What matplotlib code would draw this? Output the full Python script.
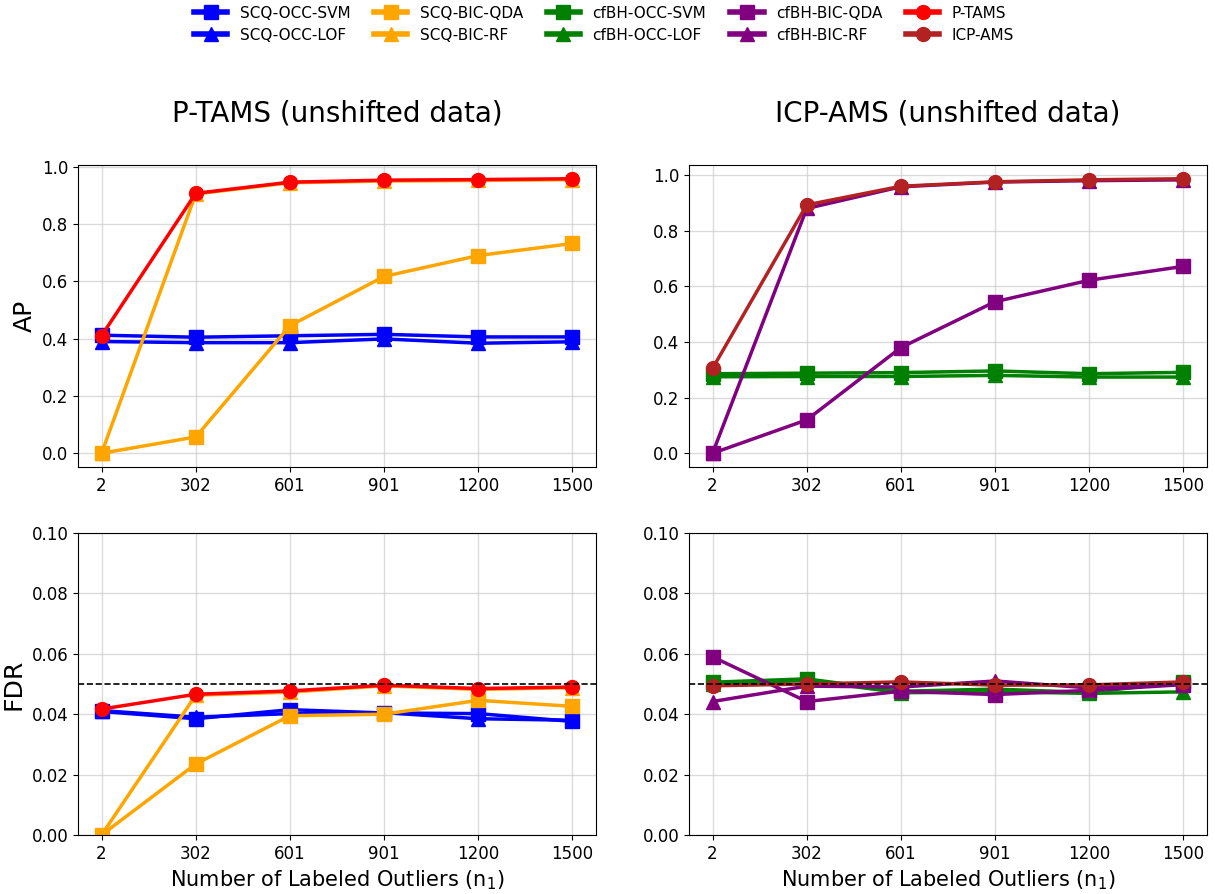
import numpy as np
import matplotlib
matplotlib.use("Agg")
import matplotlib.pyplot as plt

# ----------------------- DATA -----------------------
n_outliers = ["2", "302", "601", "901", "1200", "1500"]

# AP, left panel (P-TAMS family)
ap_scq_occ_svm = [0.412, 0.405, 0.410, 0.415, 0.406, 0.406]
ap_scq_occ_lof = [0.390, 0.386, 0.386, 0.399, 0.384, 0.389]
ap_scq_bic_qda = [0.000, 0.057, 0.445, 0.617, 0.690, 0.732]
ap_scq_bic_rf = [0.000, 0.905, 0.944, 0.950, 0.952, 0.955]
ap_p_tams = [0.410, 0.907, 0.946, 0.953, 0.955, 0.958]

# AP, right panel (ICP-AMS family)
ap_cfbh_occ_svm = [0.286, 0.288, 0.290, 0.296, 0.286, 0.291]
ap_cfbh_occ_lof = [0.275, 0.276, 0.276, 0.280, 0.274, 0.274]
ap_cfbh_bic_qda = [0.000, 0.120, 0.380, 0.545, 0.622, 0.672]
ap_cfbh_bic_rf = [0.000, 0.880, 0.958, 0.975, 0.980, 0.983]
ap_icp_ams = [0.305, 0.893, 0.960, 0.976, 0.983, 0.987]

# FDR, left panel
fdr_scq_occ_svm = [0.0409, 0.0385, 0.0415, 0.0404, 0.0402, 0.0376]
fdr_scq_occ_lof = [0.0412, 0.0390, 0.0402, 0.0405, 0.0385, 0.0380]
fdr_scq_bic_qda = [0.0000, 0.0235, 0.0395, 0.0400, 0.0446, 0.0426]
fdr_scq_bic_rf = [0.0000, 0.0463, 0.0473, 0.0494, 0.0482, 0.0488]
fdr_p_tams = [0.0417, 0.0466, 0.0477, 0.0496, 0.0485, 0.0490]

# FDR, right panel
fdr_cfbh_occ_svm = [0.0506, 0.0517, 0.0476, 0.0483, 0.0472, 0.0507]
fdr_cfbh_occ_lof = [0.0500, 0.0512, 0.0471, 0.0474, 0.0469, 0.0474]
fdr_cfbh_bic_qda = [0.0590, 0.0442, 0.0476, 0.0465, 0.0479, 0.0498]
fdr_cfbh_bic_rf = [0.0442, 0.0493, 0.0490, 0.0510, 0.0487, 0.0502]
fdr_icp_ams = [0.0494, 0.0500, 0.0507, 0.0496, 0.0497, 0.0507]

target_fdr = 0.05

# ----------------------- STYLE -----------------------
styles = {
    "SCQ-OCC-SVM": ("blue", "s"),
    "SCQ-OCC-LOF": ("blue", "^"),
    "SCQ-BIC-QDA": ("orange", "s"),
    "SCQ-BIC-RF": ("orange", "^"),
    "cfBH-OCC-SVM": ("green", "s"),
    "cfBH-OCC-LOF": ("green", "^"),
    "cfBH-BIC-QDA": ("purple", "s"),
    "cfBH-BIC-RF": ("purple", "^"),
    "P-TAMS": ("red", "o"),
    "ICP-AMS": ("firebrick", "o"),
}

left_ap = {"SCQ-OCC-SVM": ap_scq_occ_svm, "SCQ-OCC-LOF": ap_scq_occ_lof,
           "SCQ-BIC-QDA": ap_scq_bic_qda, "SCQ-BIC-RF": ap_scq_bic_rf,
           "P-TAMS": ap_p_tams}
right_ap = {"cfBH-OCC-SVM": ap_cfbh_occ_svm, "cfBH-OCC-LOF": ap_cfbh_occ_lof,
            "cfBH-BIC-QDA": ap_cfbh_bic_qda, "cfBH-BIC-RF": ap_cfbh_bic_rf,
            "ICP-AMS": ap_icp_ams}
left_fdr = {"SCQ-OCC-SVM": fdr_scq_occ_svm, "SCQ-OCC-LOF": fdr_scq_occ_lof,
            "SCQ-BIC-QDA": fdr_scq_bic_qda, "SCQ-BIC-RF": fdr_scq_bic_rf,
            "P-TAMS": fdr_p_tams}
right_fdr = {"cfBH-OCC-SVM": fdr_cfbh_occ_svm, "cfBH-OCC-LOF": fdr_cfbh_occ_lof,
             "cfBH-BIC-QDA": fdr_cfbh_bic_qda, "cfBH-BIC-RF": fdr_cfbh_bic_rf,
             "ICP-AMS": fdr_icp_ams}

W, H = 1215, 894
fig = plt.figure(figsize=(W / 100, H / 100), dpi=100)


def px_axes(x0, y0, x1, y1):
    return fig.add_axes([x0 / W, 1 - y1 / H, (x1 - x0) / W, (y1 - y0) / H])


ax_tl = px_axes(78, 165, 596, 467)
ax_tr = px_axes(689, 165, 1207, 467)
ax_bl = px_axes(78, 533, 596, 835)
ax_br = px_axes(689, 533, 1207, 835)

x = np.arange(len(n_outliers))
handles = {}


def draw(ax, series):
    for name, vals in series.items():
        color, marker = styles[name]
        line, = ax.plot(x, vals, color=color, marker=marker, markersize=10,
                        linewidth=2.5, label=name)
        handles[name] = line
    ax.set_xticks(x)
    ax.set_xticklabels(n_outliers)
    ax.tick_params(labelsize=12)
    ax.grid(True, color="#cccccc", alpha=0.7, linewidth=1)


draw(ax_tl, left_ap)
draw(ax_tr, right_ap)
draw(ax_bl, left_fdr)
draw(ax_br, right_fdr)

for ax in (ax_bl, ax_br):
    ax.set_ylim(0, 0.1)
    ax.set_yticks(np.arange(0, 0.101, 0.02))
    ax.axhline(target_fdr, color="black", linestyle="--", linewidth=1.2)
    ax.set_xlabel("Number of Labeled Outliers (n$_1$)", fontsize=15)

ax_tl.set_title("P-TAMS (unshifted data)", fontsize=20, pad=31)
ax_tr.set_title("ICP-AMS (unshifted data)", fontsize=20, pad=31)
ax_tl.set_ylabel("AP", fontsize=18)
ax_bl.set_ylabel("FDR", fontsize=18)

order = ["SCQ-OCC-SVM", "SCQ-OCC-LOF", "SCQ-BIC-QDA", "SCQ-BIC-RF",
         "cfBH-OCC-SVM", "cfBH-OCC-LOF", "cfBH-BIC-QDA", "cfBH-BIC-RF",
         "P-TAMS", "ICP-AMS"]
leg = fig.legend([handles[n] for n in order], order, loc="upper center",
                 bbox_to_anchor=(0.497, 1.009), ncol=5, frameon=False,
                 fontsize=11, handlelength=2.2, columnspacing=1.55,
                 labelspacing=0.45)
for h in leg.legend_handles:
    h.set_linewidth(4)

fig.savefig("out.png", dpi=100)
